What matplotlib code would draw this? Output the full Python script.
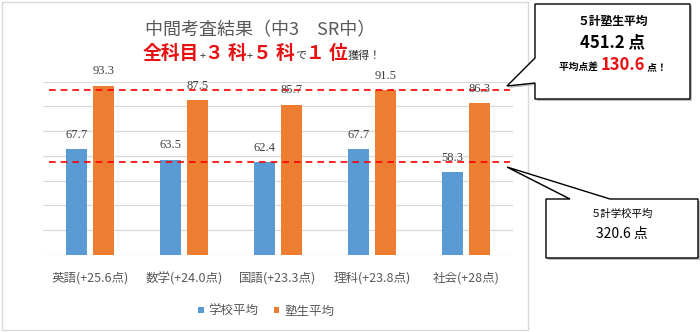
import matplotlib
matplotlib.use("Agg")
import matplotlib.pyplot as plt
from matplotlib.patches import Polygon, Rectangle
import numpy as np

plt.rcParams['font.family'] = ['Noto Sans CJK JP', 'DejaVu Sans']

subjects = ['英語(+25.6点)', '数学(+24.0点)', '国語(+23.3点)', '理科(+23.8点)', '社会(+28点)']
school_avg = [67.7, 63.5, 62.4, 67.7, 58.3]
juku_avg = [93.3, 87.5, 85.7, 91.5, 86.3]
series_names = ['学校平均', '塾生平均']
ref_lines = [91.4, 62.5]

BLUE = '#5B9BD5'
ORANGE = '#ED7D31'
GRID = '#D9D9D9'
GRAY = '#595959'
RED = '#E81010'

W, H = 700, 332
fig = plt.figure(figsize=(W / 100, H / 100), dpi=100)

# main bar chart
ax = fig.add_axes([43 / W, 77 / H, 470 / W, 173.5 / H])
x = np.arange(len(subjects))
bw = 0.223
off = 0.141
b1 = ax.bar(x - off, school_avg, bw, color=BLUE, zorder=2, label=series_names[0])
b2 = ax.bar(x + off, juku_avg, bw, color=ORANGE, zorder=2, label=series_names[1])
for bars in (b1, b2):
    for r in bars:
        ax.annotate(f'{r.get_height():.1f}', (r.get_x() + r.get_width() / 2, r.get_height()),
                    xytext=(0, 6), textcoords='offset points', ha='center', va='bottom',
                    fontsize=9, color='#404040', family='Liberation Serif', zorder=4)

ax.set_xlim(-0.5, 4.5)
ax.set_ylim(25, 95)
ax.set_yticks(np.arange(25, 96, 10))
ax.yaxis.grid(True, color=GRID, lw=0.9, zorder=0)
ax.set_yticklabels([])
ax.set_xticks(x)
ax.set_xticklabels(subjects, fontsize=9, color=GRAY)
ax.tick_params(length=0)
ax.tick_params(axis='x', pad=12)
for s in ax.spines.values():
    s.set_visible(False)

for v in ref_lines:
    ax.axhline(v, xmin=0.013, xmax=0.994, color='#FF0000', lw=1.2,
               dashes=(4, 3), zorder=3)

ax.legend(loc='center', bbox_to_anchor=(266 / W, 1 - 311 / H),
          bbox_transform=fig.transFigure, ncol=2, frameon=False, fontsize=9,
          labelcolor=GRAY, handlelength=0.45, handleheight=0.45, handletextpad=0.4,
          columnspacing=1.2)

# overlay in pixel coordinates for the frame, titles and callouts
ov = fig.add_axes([0, 0, 1, 1], zorder=5)
ov.set_xlim(0, W)
ov.set_ylim(H, 0)
ov.axis('off')
ov.patch.set_alpha(0)

ov.add_patch(Rectangle((1.5, 1.5), 526, 328.5, fill=False, ec=GRID, lw=1))

ov.text(260, 35, '中間考査結果（中3　SR中）', ha='center', va='baseline',
        fontsize=13, color=GRAY)


def run_text(cx, y, parts):
    """Lay out mixed-style pieces on one baseline, centred on cx."""
    renderer = fig.canvas.get_renderer()
    items = []
    total = 0
    for s, size, color, weight in parts:
        t = ov.text(0, y, s, fontsize=size, color=color, fontweight=weight,
                    ha='left', va='baseline')
        w = t.get_window_extent(renderer).width
        items.append((t, w))
        total += w
    pos = cx - total / 2
    for t, w in items:
        t.set_x(pos)
        pos += w


run_text(262, 59, [('全科目', 13.5, RED, 'bold'), ('+', 8, '#333333', 'normal'),
                   ('３ 科', 13.5, RED, 'bold'), ('+', 8, '#333333', 'normal'),
                   ('５ 科', 13.5, RED, 'bold'), ('で', 8, '#333333', 'normal'),
                   ('１ 位', 13.5, RED, 'bold'), ('獲得！', 8, '#333333', 'normal')])

# callout for the juku average
box1 = [(535, 4), (690, 4), (690, 99), (535, 99), (535, 83), (507, 86), (535, 58)]
ov.add_patch(Polygon([(px + 2, py + 2) for px, py in box1], closed=True, fc='#BFBFBF', ec='none'))
ov.add_patch(Polygon(box1, closed=True, fc='white', ec='black', lw=1))
run_text(613, 25, [('５計塾生平均', 8.5, 'black', 'bold')])
run_text(613, 47, [('451.2 点', 12, 'black', 'bold')])
run_text(613, 70, [('平均点差 ', 7, 'black', 'bold'), ('130.6', 12, RED, 'bold'),
                   (' 点！', 7, 'black', 'bold')])

# callout for the school average
box2 = [(546, 199), (570, 199), (507, 167), (610, 199), (698, 199), (698, 258), (546, 258)]
ov.add_patch(Polygon([(px + 2, py + 2) for px, py in box2], closed=True, fc='#BFBFBF', ec='none'))
ov.add_patch(Polygon(box2, closed=True, fc='white', ec='black', lw=1))
run_text(622, 217, [('５計学校平均', 7.5, 'black', 'normal')])
run_text(622, 238, [('320.6 点', 10, 'black', 'normal')])

fig.savefig('out.png', dpi=100)
